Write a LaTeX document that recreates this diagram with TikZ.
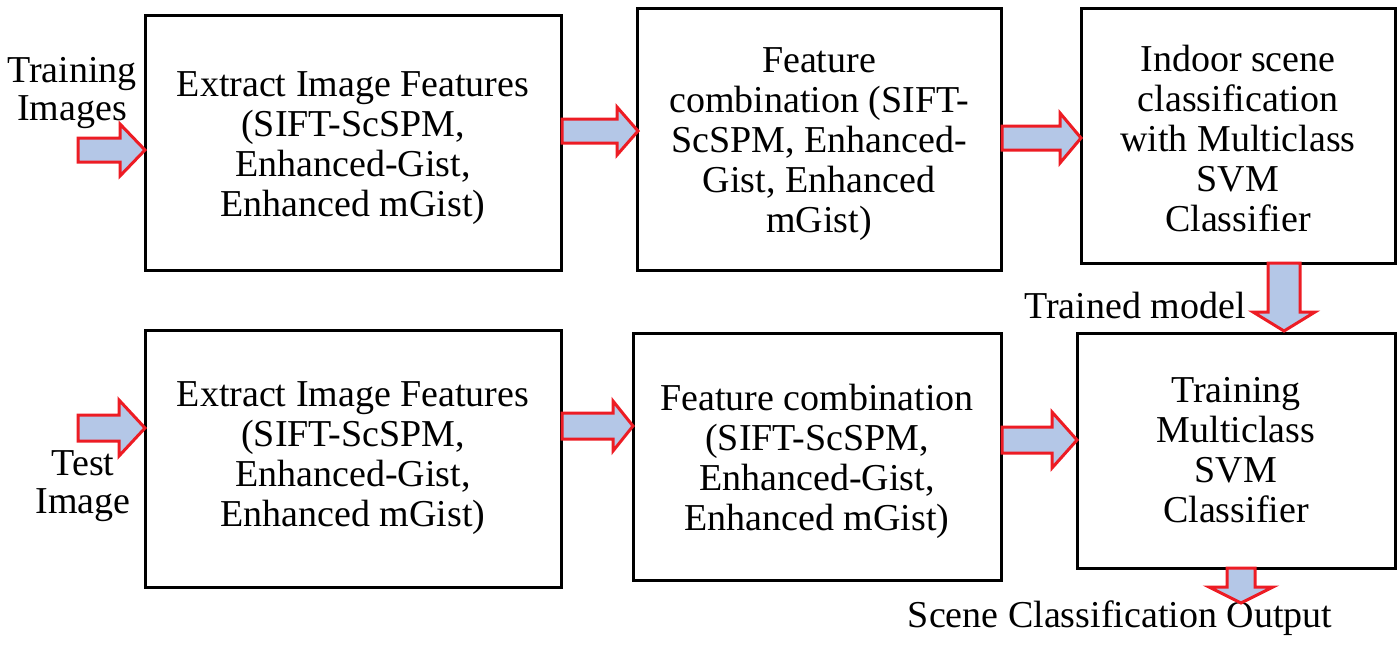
\documentclass[tikz,border=0pt]{standalone}
\usepackage{fontspec}
\setmainfont{Liberation Serif}
\definecolor{arrred}{HTML}{ED1C24}
\definecolor{arrfill}{HTML}{B4C7E7}
\newcommand{\blkR}[6]{% x0, xhead, xtip, yc, shaft half, head half
  \filldraw[blk] (#1,#4-#5) -- (#2,#4-#5) -- (#2,#4-#6) -- (#3,#4) -- (#2,#4+#6) -- (#2,#4+#5) -- (#1,#4+#5) -- cycle;}
\newcommand{\blkD}[6]{% y0, yhead, ytip, xc, shaft half, head half
  \filldraw[blk] (#4-#5,#1) -- (#4-#5,#2) -- (#4-#6,#2) -- (#4,#3) -- (#4+#6,#2) -- (#4+#5,#2) -- (#4+#5,#1) -- cycle;}
\begin{document}
\begin{tikzpicture}[x=0.5pt,y=-0.5pt,
  box/.style={draw=black, line width=1.5pt, inner sep=0pt},
  txt/.style={inner sep=0pt, align=center, font=\fontsize{19}{20}\selectfont},
  lbl/.style={inner sep=0pt, align=center, font=\fontsize{19}{19}\selectfont},
  blk/.style={draw=arrred, fill=arrfill, line width=1.5pt, line join=miter}]
\useasboundingbox (0,0) rectangle (1400,644);

\node[box, minimum width=208pt, minimum height=127.5pt] (a1) at (353,142.5) {};
\node[txt] (a1t) at ([yshift=-3pt]a1.center)
  {Extract Image Features\\(SIFT-ScSPM,\\Enhanced-Gist,\\Enhanced mGist)};
\node[box, minimum width=182pt, minimum height=131pt] (b1) at (819,139) {};
\node[txt] (b1t) at ([yshift=-2.5pt]b1.center)
  {Feature\\combination (SIFT-\\ScSPM, Enhanced-\\Gist, Enhanced\\mGist)};
\node[box, minimum width=157pt, minimum height=127.5pt] (c1) at (1238,135.5) {};
\node[txt] (c1t) at ([yshift=-1.5pt]c1.center)
  {Indoor scene\\classification\\with Multiclass\\SVM\\Classifier};
\node[box, minimum width=208pt, minimum height=128.5pt] (a2) at (353,458.5) {};
\node[txt] (a2t) at (a2.center)
  {Extract Image Features\\(SIFT-ScSPM,\\Enhanced-Gist,\\Enhanced mGist)};
\node[box, minimum width=184pt, minimum height=123.5pt] (b2) at (817,456.5) {};
\node[txt] (b2t) at ([yshift=-2.5pt]b2.center)
  {Feature combination\\(SIFT-ScSPM,\\Enhanced-Gist,\\Enhanced mGist)};
\node[box, minimum width=159pt, minimum height=117.5pt] (c2) at (1236,450.5) {};
\node[txt] (c2t) at (c2.center)
  {Training\\Multiclass\\SVM\\Classifier};

\node[lbl] (train) at (72,93) {Training\\Images};
\node[lbl] (test) at (83,486) {Test\\Image};
\node[lbl] (trained) at (1135,305) {Trained model};
\node[lbl] (out) at (1120,618) {Scene Classification Output};

\blkR{78}{120}{145}{150}{12}{26}
\blkR{562}{617}{638}{131}{12}{24}
\blkR{1002}{1060}{1081}{138}{12}{25}
\blkR{78}{119}{145}{428}{13}{28}
\blkR{562}{613}{633}{426}{13}{25}
\blkR{1002}{1052}{1077}{440}{13}{28}
\blkD{263}{312}{331}{1284}{16}{31}
\blkD{568}{587}{603}{1241}{14}{32}
\end{tikzpicture}
\end{document}
